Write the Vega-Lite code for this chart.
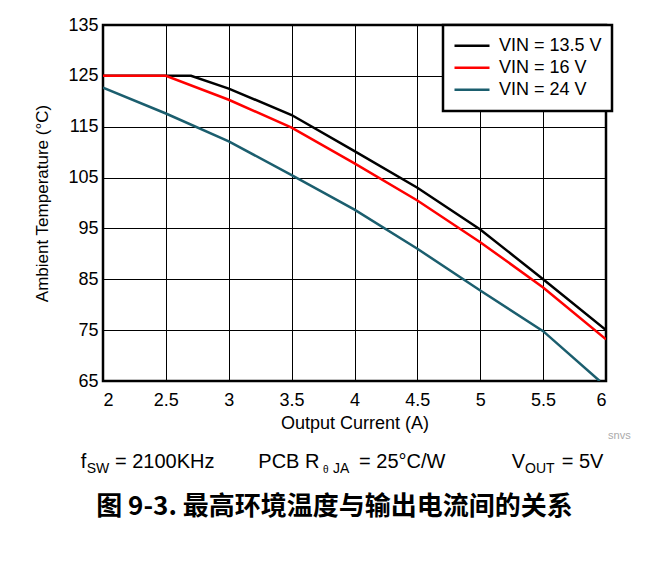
{
  "$schema": "https://vega.github.io/schema/vega-lite/v6.json",
  "width": 503,
  "height": 356,
  "autosize": "none",
  "padding": {"left": 103, "top": 25, "right": 58, "bottom": 180},
  "background": "white",
  "config": {
    "font": "Liberation Sans",
    "view": {"stroke": "black", "strokeWidth": 2.5},
    "axis": {
      "grid": true,
      "gridColor": "black",
      "gridWidth": 1,
      "gridOpacity": 1,
      "ticks": false,
      "domain": false,
      "labelFont": "Liberation Sans",
      "labelFontSize": 18,
      "labelColor": "black",
      "titleFont": "Liberation Sans",
      "titleFontSize": 18,
      "titleFontWeight": "normal",
      "titleColor": "black"
    }
  },
  "title": {
    "text": "图 9-3. 最高环境温度与输出电流间的关系",
    "orient": "bottom",
    "anchor": "middle",
    "font": "Noto Sans CJK SC",
    "fontWeight": "bold",
    "fontSize": 26,
    "color": "black",
    "offset": 18,
    "dx": -20
  },
  "layer": [
    {
      "data": {
        "values": [
          {"series": "13.5", "current": 2, "temp": 125},
          {"series": "13.5", "current": 2.7, "temp": 125},
          {"series": "13.5", "current": 3, "temp": 122.5},
          {"series": "13.5", "current": 3.5, "temp": 117.3},
          {"series": "13.5", "current": 4, "temp": 110.2},
          {"series": "13.5", "current": 4.5, "temp": 103},
          {"series": "13.5", "current": 5, "temp": 94.8},
          {"series": "13.5", "current": 5.5, "temp": 85},
          {"series": "13.5", "current": 6, "temp": 75},
          {"series": "16", "current": 2, "temp": 125},
          {"series": "16", "current": 2.5, "temp": 125},
          {"series": "16", "current": 3, "temp": 120.3},
          {"series": "16", "current": 3.5, "temp": 114.8},
          {"series": "16", "current": 4, "temp": 107.8},
          {"series": "16", "current": 4.5, "temp": 100.5},
          {"series": "16", "current": 5, "temp": 92.3},
          {"series": "16", "current": 5.5, "temp": 83.4},
          {"series": "16", "current": 6, "temp": 73.2},
          {"series": "24", "current": 2, "temp": 122.7},
          {"series": "24", "current": 2.5, "temp": 117.6},
          {"series": "24", "current": 3, "temp": 112.1},
          {"series": "24", "current": 3.5, "temp": 105.5},
          {"series": "24", "current": 4, "temp": 98.7},
          {"series": "24", "current": 4.5, "temp": 91},
          {"series": "24", "current": 5, "temp": 82.8},
          {"series": "24", "current": 5.5, "temp": 74.8},
          {"series": "24", "current": 5.95, "temp": 65}
        ]
      },
      "mark": {"type": "line", "strokeWidth": 2.5, "clip": true},
      "encoding": {
        "x": {
          "field": "current",
          "type": "quantitative",
          "scale": {"domain": [2, 6], "nice": false, "zero": false},
          "axis": {
            "values": [2, 2.5, 3, 3.5, 4, 4.5, 5, 5.5, 6],
            "format": "~g",
            "labelPadding": 10,
            "title": "Output Current (A)",
            "titlePadding": 5
          }
        },
        "y": {
          "field": "temp",
          "type": "quantitative",
          "scale": {"domain": [65, 135], "nice": false, "zero": false},
          "axis": {
            "values": [65, 75, 85, 95, 105, 115, 125, 135],
            "labelPadding": 5,
            "title": "Ambient Temperature (°C)",
            "titleFontSize": 17,
            "titlePadding": 16
          }
        },
        "color": {
          "field": "series",
          "type": "nominal",
          "scale": {"domain": ["13.5", "16", "24"], "range": ["#000000", "#ff0000", "#1b5e6e"]},
          "legend": {
            "title": null,
            "orient": "none",
            "legendX": 340,
            "legendY": 0,
            "labelExpr": "'VIN = ' + datum.label + ' V'",
            "symbolType": "stroke",
            "symbolSize": 1225,
            "symbolStrokeWidth": 2.5,
            "clipHeight": 21.5,
            "labelFontSize": 18,
            "labelFont": "Liberation Sans",
            "labelColor": "black",
            "labelOffset": 8,
            "fillColor": "white",
            "strokeColor": "black",
            "padding": 10,
            "rowPadding": 0,
            "encode": {"legend": {"update": {"strokeWidth": {"value": 2.5}}}}
          }
        }
      }
    },
    {
      "data": {"values": [{}]},
      "mark": {"type": "text", "align": "left", "baseline": "alphabetic", "fontSize": 20, "font": "Liberation Sans", "color": "black"},
      "encoding": {"x": {"datum": 1.8227, "type": "quantitative"}, "y": {"datum": 47.83, "type": "quantitative"}, "text": {"value": "f"}}
    },
    {
      "data": {"values": [{}]},
      "mark": {"type": "text", "align": "left", "baseline": "alphabetic", "fontSize": 14, "font": "Liberation Sans", "color": "black"},
      "encoding": {"x": {"datum": 1.8704, "type": "quantitative"}, "y": {"datum": 46.85, "type": "quantitative"}, "text": {"value": "SW"}}
    },
    {
      "data": {"values": [{}]},
      "mark": {"type": "text", "align": "left", "baseline": "alphabetic", "fontSize": 20, "font": "Liberation Sans", "color": "black"},
      "encoding": {"x": {"datum": 2.0954, "type": "quantitative"}, "y": {"datum": 47.83, "type": "quantitative"}, "text": {"value": "= 2100KHz"}}
    },
    {
      "data": {"values": [{}]},
      "mark": {"type": "text", "align": "left", "baseline": "alphabetic", "fontSize": 20, "font": "Liberation Sans", "color": "black"},
      "encoding": {"x": {"datum": 3.235, "type": "quantitative"}, "y": {"datum": 47.83, "type": "quantitative"}, "text": {"value": "PCB R"}}
    },
    {
      "data": {"values": [{}]},
      "mark": {"type": "text", "align": "left", "baseline": "alphabetic", "fontSize": 10, "font": "Liberation Sans", "color": "black"},
      "encoding": {"x": {"datum": 3.749, "type": "quantitative"}, "y": {"datum": 46.85, "type": "quantitative"}, "text": {"value": "θ"}}
    },
    {
      "data": {"values": [{}]},
      "mark": {"type": "text", "align": "left", "baseline": "alphabetic", "fontSize": 14, "font": "Liberation Sans", "color": "black"},
      "encoding": {"x": {"datum": 3.829, "type": "quantitative"}, "y": {"datum": 46.85, "type": "quantitative"}, "text": {"value": "JA"}}
    },
    {
      "data": {"values": [{}]},
      "mark": {"type": "text", "align": "left", "baseline": "alphabetic", "fontSize": 20, "font": "Liberation Sans", "color": "black"},
      "encoding": {"x": {"datum": 4.036, "type": "quantitative"}, "y": {"datum": 47.83, "type": "quantitative"}, "text": {"value": "= 25°C/W"}}
    },
    {
      "data": {"values": [{}]},
      "mark": {"type": "text", "align": "left", "baseline": "alphabetic", "fontSize": 20, "font": "Liberation Sans", "color": "black"},
      "encoding": {"x": {"datum": 5.25, "type": "quantitative"}, "y": {"datum": 47.83, "type": "quantitative"}, "text": {"value": "V"}}
    },
    {
      "data": {"values": [{}]},
      "mark": {"type": "text", "align": "left", "baseline": "alphabetic", "fontSize": 14, "font": "Liberation Sans", "color": "black"},
      "encoding": {"x": {"datum": 5.356, "type": "quantitative"}, "y": {"datum": 46.85, "type": "quantitative"}, "text": {"value": "OUT"}}
    },
    {
      "data": {"values": [{}]},
      "mark": {"type": "text", "align": "left", "baseline": "alphabetic", "fontSize": 20, "font": "Liberation Sans", "color": "black"},
      "encoding": {"x": {"datum": 5.648, "type": "quantitative"}, "y": {"datum": 47.83, "type": "quantitative"}, "text": {"value": "= 5V"}}
    },
    {
      "data": {"values": [{}]},
      "mark": {"type": "text", "align": "left", "baseline": "alphabetic", "fontSize": 11, "font": "Liberation Sans", "color": "#aaaaaa"},
      "encoding": {"x": {"datum": 6.016, "type": "quantitative"}, "y": {"datum": 53.6, "type": "quantitative"}, "text": {"value": "snvs"}}
    }
  ]
}
